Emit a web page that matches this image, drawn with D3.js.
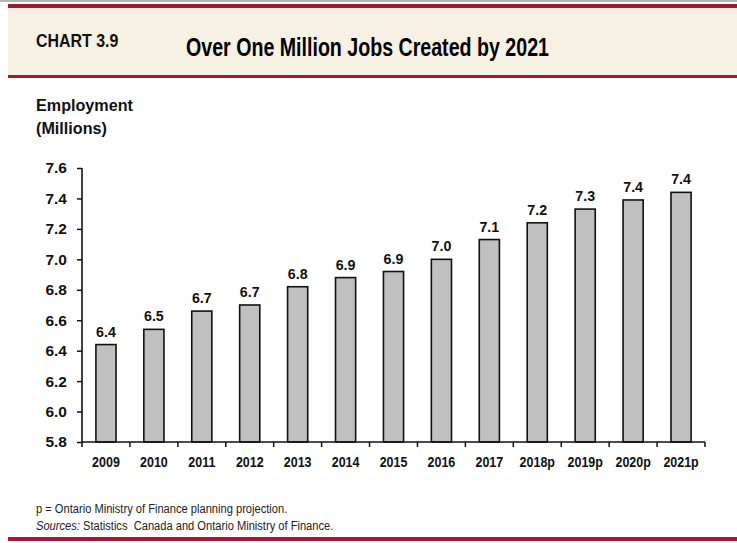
<!DOCTYPE html>
<html>
<head>
<meta charset="utf-8">
<script src="https://cdn.jsdelivr.net/npm/d3@7"></script>
<style>
  html, body { margin: 0; padding: 0; background: #ffffff; }
  svg { display: block; }
</style>
</head>
<body>
<script>
const categories = ["2009","2010","2011","2012","2013","2014","2015","2016","2017","2018p","2019p","2020p","2021p"];
const employment = [6.44, 6.54, 6.66, 6.70, 6.82, 6.88, 6.92, 7.00, 7.13, 7.24, 7.33, 7.39, 7.44];
const yTicks = [5.8, 6.0, 6.2, 6.4, 6.6, 6.8, 7.0, 7.2, 7.4, 7.6];
const chartNumber = "CHART 3.9";
const chartTitle = "Over One Million Jobs Created by 2021";
const yTitle = ["Employment", "(Millions)"];
const footnote = "p = Ontario Ministry of Finance planning projection.";

const W = 737, H = 543;
const sans = "'Liberation Sans', Arial, sans-serif";
const red = "#9f1a2f";

const svg = d3.select("body").append("svg").attr("width", W).attr("height", H);

// condensed text helper (horizontal scaling)
function ctext(parent, x, y, sx, size, weight) {
  return parent.append("text")
    .attr("transform", `translate(${x},${y}) scale(${sx},1)`)
    .attr("font-family", sans).attr("font-size", size).attr("font-weight", weight || "normal");
}

// header
svg.append("rect").attr("x", 0).attr("y", 0).attr("width", W).attr("height", 2).attr("fill", "#b4b4b4");
svg.append("rect").attr("x", 8).attr("y", 8).attr("width", W - 8).attr("height", 67).attr("fill", "#f7f1e4");
svg.append("rect").attr("x", 8).attr("y", 4).attr("width", W - 8).attr("height", 4).attr("fill", red);
svg.append("rect").attr("x", 8).attr("y", 75).attr("width", W - 8).attr("height", 3).attr("fill", red);
ctext(svg, 36, 47, 0.84, 19, "bold").attr("fill", "#111").text(chartNumber);
ctext(svg, 186, 56, 0.755, 26, "bold").attr("fill", "#000").text(chartTitle);

// y title
yTitle.forEach((t, i) => {
  ctext(svg, 36, 111 + i * 23, 0.95, 17, "bold").attr("fill", "#111").text(t);
});

// scales
const x = d3.scaleBand().domain(categories).range([82, 705]).paddingInner(0.58).paddingOuter(0.29);
const y = d3.scaleLinear().domain([5.8, 7.6]).range([442, 168]);

// bars
svg.append("g").selectAll("rect").data(categories).join("rect")
  .attr("x", d => x(d))
  .attr("y", (d, i) => y(employment[i]))
  .attr("width", x.bandwidth())
  .attr("height", (d, i) => y(5.8) - y(employment[i]))
  .attr("fill", "#c0c0c0").attr("stroke", "#111").attr("stroke-width", 1.6);

// value labels
svg.append("g").selectAll("text").data(categories).join("text")
  .attr("transform", (d, i) => `translate(${x(d) + x.bandwidth() / 2},${y(employment[i]) - 8}) scale(0.92,1)`)
  .attr("text-anchor", "middle").attr("font-family", sans).attr("font-weight", "bold")
  .attr("font-size", 15.5).attr("fill", "#111")
  .text((d, i) => d3.format(".1f")(employment[i]));

// y axis
const yAxis = svg.append("g").attr("transform", "translate(82,0)")
  .call(d3.axisLeft(y).tickValues(yTicks).tickFormat(d3.format(".1f")).tickSize(5).tickPadding(10));
yAxis.select(".domain").attr("stroke", "#111").attr("stroke-width", 1.6).attr("d", `M0,${y(7.6)}V${y(5.8)}`);
yAxis.selectAll(".tick line").attr("stroke", "#111").attr("stroke-width", 1.5);
yAxis.selectAll(".tick text").attr("font-family", sans).attr("font-weight", "bold").attr("font-size", 15.5).attr("fill", "#111");

// x axis
const xAxis = svg.append("g").attr("transform", `translate(0,${y(5.8)})`)
  .call(d3.axisBottom(x).tickSize(0).tickPadding(15));
xAxis.select(".domain").attr("stroke", "#111").attr("stroke-width", 1.6).attr("d", `M82,0H705`);
xAxis.selectAll(".tick text").attr("font-family", sans).attr("font-weight", "bold").attr("font-size", 14)
  .attr("fill", "#111").attr("transform", "scale(0.89,1)");
const bounds = d3.range(categories.length + 1).map(i => x.range()[0] + i * x.step());
xAxis.append("g").selectAll("line").data(bounds).join("line")
  .attr("x1", d => d).attr("x2", d => d).attr("y1", 0).attr("y2", 5)
  .attr("stroke", "#111").attr("stroke-width", 1.5);

// footer
ctext(svg, 36, 513, 0.89, 12.5).attr("fill", "#222").text(footnote);
const src = ctext(svg, 36, 530, 0.89, 12.5).attr("fill", "#222").attr("xml:space", "preserve");
src.append("tspan").attr("font-style", "italic").text("Sources:");
src.append("tspan").text(" Statistics  Canada and Ontario Ministry of Finance.");
svg.append("rect").attr("x", 8).attr("y", 537).attr("width", W - 8).attr("height", 4).attr("fill", red);
</script>
</body>
</html>
